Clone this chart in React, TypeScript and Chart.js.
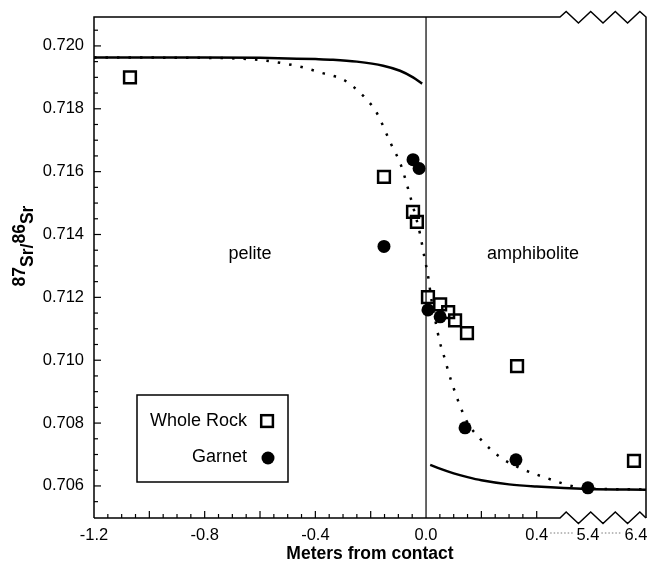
import { useEffect, useRef } from "react";
import { Chart, registerables } from "chart.js";

Chart.register(...registerables);

// ---------- data (real distances in metres, 87Sr/86Sr) ----------
const xLabelTicks = [-1.2, -0.8, -0.4, 0.0, 0.4];
const breakLabelTicks = [5.4, 6.4];
const yLabelTicks = [0.706, 0.708, 0.71, 0.712, 0.714, 0.716, 0.718, 0.72];

const wholeRockX = [-1.07, -0.152, -0.047, -0.033, 0.007, 0.051, 0.08, 0.105, 0.148, 0.329, 6.36];
const wholeRockY = [0.719, 0.71583, 0.71472, 0.7144, 0.71201, 0.71178, 0.71153, 0.71127, 0.71086, 0.70981, 0.7068];

const garnetX = [-0.152, -0.047, -0.025, 0.007, 0.051, 0.141, 0.325, 5.4];
const garnetY = [0.71362, 0.71638, 0.7161, 0.7116, 0.71138, 0.70785, 0.70683, 0.70594];

const peliteCurveX = [-1.2, -0.8, -0.6, -0.5, -0.4, -0.336, -0.25, -0.155, -0.094, -0.047, -0.014];
const peliteCurveY = [0.71963, 0.71963, 0.71962, 0.7196, 0.71958, 0.71956, 0.7195, 0.71937, 0.71921, 0.719, 0.7188];

const amphCurveX = [0.015, 0.05, 0.1, 0.15, 0.2, 0.3, 0.4, 5.4, 6.61];
const amphCurveY = [0.70667, 0.70655, 0.7064, 0.70628, 0.70618, 0.70605, 0.70598, 0.7059, 0.70588];

const modelCurveX = [-1.2, -0.8, -0.6, -0.5, -0.45, -0.38, -0.3, -0.26, -0.22, -0.18, -0.127, -0.09, -0.065, -0.043, -0.022, -0.007, 0.007, 0.02, 0.035, 0.05, 0.062, 0.09, 0.145, 0.2, 0.27, 0.34, 0.4, 5.4, 6.61];
const modelCurveY = [0.71963, 0.71962, 0.71955, 0.71942, 0.71933, 0.71915, 0.71893, 0.71868, 0.71835, 0.7179, 0.71689, 0.71619, 0.71546, 0.71476, 0.71403, 0.71333, 0.7127, 0.7119, 0.7112, 0.71057, 0.71022, 0.70937, 0.7081, 0.70746, 0.7069, 0.70657, 0.70636, 0.70592, 0.70589];

// ---------- broken x axis: real metres -> axis units ----------
const BREAK_A = 0.4;
const BREAK_B = 5.4;
const BREAK_GAP = 0.185;
const FAR_SCALE = 0.1735;
function toAxis(x: number): number {
  if (x <= BREAK_A) return x;
  if (x <= BREAK_B) return BREAK_A + ((x - BREAK_A) * BREAK_GAP) / (BREAK_B - BREAK_A);
  return BREAK_A + BREAK_GAP + (x - BREAK_B) * FAR_SCALE;
}
const pts = (xs: number[], ys: number[]) => xs.map((x, i) => ({ x: toAxis(x), y: ys[i] }));

const FONT = "'Liberation Sans', Arial, Helvetica, sans-serif";

const decorPlugin = {
  id: "decor",
  afterDraw(chart: any) {
    const ctx: CanvasRenderingContext2D = chart.ctx;
    const { left, right, top, bottom } = chart.chartArea;
    const xs = chart.scales.x;
    const ys = chart.scales.y;
    ctx.save();
    ctx.strokeStyle = "#000";
    ctx.fillStyle = "#000";
    ctx.lineCap = "butt";

    // frame with axis-break zigzags
    const zigStart = right - 86;
    const q = (right - zigStart) / 14;
    ctx.lineWidth = 1.5;
    ctx.beginPath();
    ctx.moveTo(left, bottom);
    ctx.lineTo(left, top);
    ctx.lineTo(zigStart, top);
    for (let k = 1; k <= 13; k += 2) {
      const up = k % 4 === 1;
      ctx.lineTo(zigStart + k * q, up ? top - 5.5 : top + 6);
    }
    ctx.lineTo(right, top);
    ctx.lineTo(right, bottom);
    ctx.stroke();
    ctx.beginPath();
    ctx.moveTo(left, bottom);
    ctx.lineTo(zigStart, bottom);
    for (let k = 1; k <= 13; k += 2) {
      const up = k % 4 === 1;
      ctx.lineTo(zigStart + k * q, up ? bottom - 6 : bottom + 5.5);
    }
    ctx.lineTo(right, bottom);
    ctx.stroke();

    // contact line
    ctx.lineWidth = 1.2;
    const x0 = xs.getPixelForValue(0);
    ctx.beginPath();
    ctx.moveTo(x0, top);
    ctx.lineTo(x0, bottom);
    ctx.stroke();

    // x ticks (inward)
    ctx.lineWidth = 1.2;
    for (let k = -23; k <= 8; k++) {
      if (k === 0) continue;
      const px = xs.getPixelForValue(k * 0.05);
      const len = k % 4 === 0 ? 7 : 4;
      ctx.beginPath();
      ctx.moveTo(px, bottom);
      ctx.lineTo(px, bottom - len);
      ctx.stroke();
    }
    // y ticks (inward)
    for (let k = 1410; k <= 1441; k++) {
      const v = k * 0.0005;
      const py = ys.getPixelForValue(v);
      if (py < top + 1 || py > bottom - 1) continue;
      const len = k % 4 === 0 ? 7 : 4;
      ctx.beginPath();
      ctx.moveTo(left, py);
      ctx.lineTo(left + len, py);
      ctx.stroke();
    }

    // tick labels
    ctx.font = `16.5px ${FONT}`;
    ctx.textBaseline = "middle";
    ctx.textAlign = "center";
    const labY = bottom + 17;
    xLabelTicks.forEach((v) => {
      ctx.fillText(v.toFixed(1), xs.getPixelForValue(v), labY);
    });
    const bx = breakLabelTicks.map((v) => xs.getPixelForValue(toAxis(v)));
    breakLabelTicks.forEach((v, i) => ctx.fillText(v.toFixed(1), bx[i], labY));
    // dotted connectors between labels
    const p04 = xs.getPixelForValue(0.4);
    const half = ctx.measureText("0.4").width / 2;
    ctx.strokeStyle = "#777";
    ctx.lineWidth = 1;
    ctx.setLineDash([1.5, 2]);
    ctx.beginPath();
    ctx.moveTo(p04 + half + 2, labY - 2);
    ctx.lineTo(bx[0] - half - 2, labY - 2);
    ctx.moveTo(bx[0] + half + 2, labY - 2);
    ctx.lineTo(bx[1] - half - 2, labY - 2);
    ctx.stroke();
    ctx.setLineDash([]);
    ctx.strokeStyle = "#000";

    ctx.textAlign = "right";
    yLabelTicks.forEach((v) => {
      ctx.fillText(v.toFixed(3), left - 10, ys.getPixelForValue(v));
    });

    // axis titles
    ctx.font = `bold 17.5px ${FONT}`;
    ctx.textAlign = "center";
    ctx.fillText("Meters from contact", (left + right) / 2, bottom + 36);

    ctx.save();
    ctx.translate(30, 246);
    ctx.rotate(-Math.PI / 2);
    ctx.textAlign = "left";
    ctx.textBaseline = "alphabetic";
    const parts: [string, number][] = [
      ["87", -5],
      ["Sr/", 3],
      ["86", -5],
      ["Sr", 3],
    ];
    const total = parts.reduce((s, p) => s + ctx.measureText(p[0]).width, 0);
    let cx = -total / 2;
    parts.forEach(([t, dy]) => {
      ctx.fillText(t, cx, dy);
      cx += ctx.measureText(t).width;
    });
    ctx.restore();

    // region labels
    ctx.font = `18px ${FONT}`;
    ctx.textBaseline = "alphabetic";
    ctx.textAlign = "center";
    ctx.fillText("pelite", 250, 259);
    ctx.textAlign = "left";
    ctx.fillText("amphibolite", 487, 259);

    // legend
    ctx.lineWidth = 1.5;
    ctx.strokeRect(137, 395, 151, 87);
    ctx.textAlign = "right";
    ctx.textBaseline = "middle";
    ctx.fillText("Whole Rock", 247, 421);
    ctx.fillText("Garnet", 247, 457.5);
    ctx.lineWidth = 2.5;
    ctx.strokeRect(261.2, 415.2, 11.7, 11.7);
    ctx.beginPath();
    ctx.arc(268, 458, 6.5, 0, Math.PI * 2);
    ctx.fill();

    ctx.restore();
  },
};

export default function App() {
  const ref = useRef<HTMLCanvasElement | null>(null);
  useEffect(() => {
    document.body.style.margin = "0";
    if (!ref.current) return;
    const chart = new Chart(ref.current, {
      type: "scatter",
      data: {
        datasets: [
          {
            label: "Whole Rock",
            data: pts(wholeRockX, wholeRockY),
            pointStyle: "rect",
            pointRadius: 8.3,
            pointBorderWidth: 2.5,
            pointBorderColor: "#000",
            pointBackgroundColor: "rgba(0,0,0,0)",
            showLine: false,
          },
          {
            label: "Garnet",
            data: pts(garnetX, garnetY),
            pointStyle: "circle",
            pointRadius: 6.5,
            pointBorderWidth: 0,
            pointBackgroundColor: "#000",
            showLine: false,
          },
          {
            label: "pelite model",
            data: pts(peliteCurveX, peliteCurveY),
            showLine: true,
            borderColor: "#000",
            borderWidth: 2.5,
            pointRadius: 0,
            cubicInterpolationMode: "monotone",
          },
          {
            label: "amphibolite model",
            data: pts(amphCurveX, amphCurveY),
            showLine: true,
            borderColor: "#000",
            borderWidth: 2.5,
            pointRadius: 0,
            cubicInterpolationMode: "monotone",
          },
          {
            label: "diffusion model",
            data: pts(modelCurveX, modelCurveY),
            showLine: true,
            borderColor: "#000",
            borderWidth: 2.5,
            borderDash: [2.5, 9],
            borderCapStyle: "butt",
            pointRadius: 0,
            cubicInterpolationMode: "monotone",
          },
        ] as any,
      },
      options: {
        animation: false,
        responsive: false,
        devicePixelRatio: 1,
        layout: { autoPadding: false, padding: { left: 94, right: 2, top: 17, bottom: 49 } },
        scales: {
          x: { type: "linear", min: -1.2, max: 0.795, display: false },
          y: { type: "linear", min: 0.70498, max: 0.72092, display: false },
        },
        plugins: { legend: { display: false }, tooltip: { enabled: false } },
        events: [],
      } as any,
      plugins: [decorPlugin],
    });
    return () => chart.destroy();
  }, []);
  return <canvas ref={ref} width={648} height={567} style={{ display: "block" }} />;
}
